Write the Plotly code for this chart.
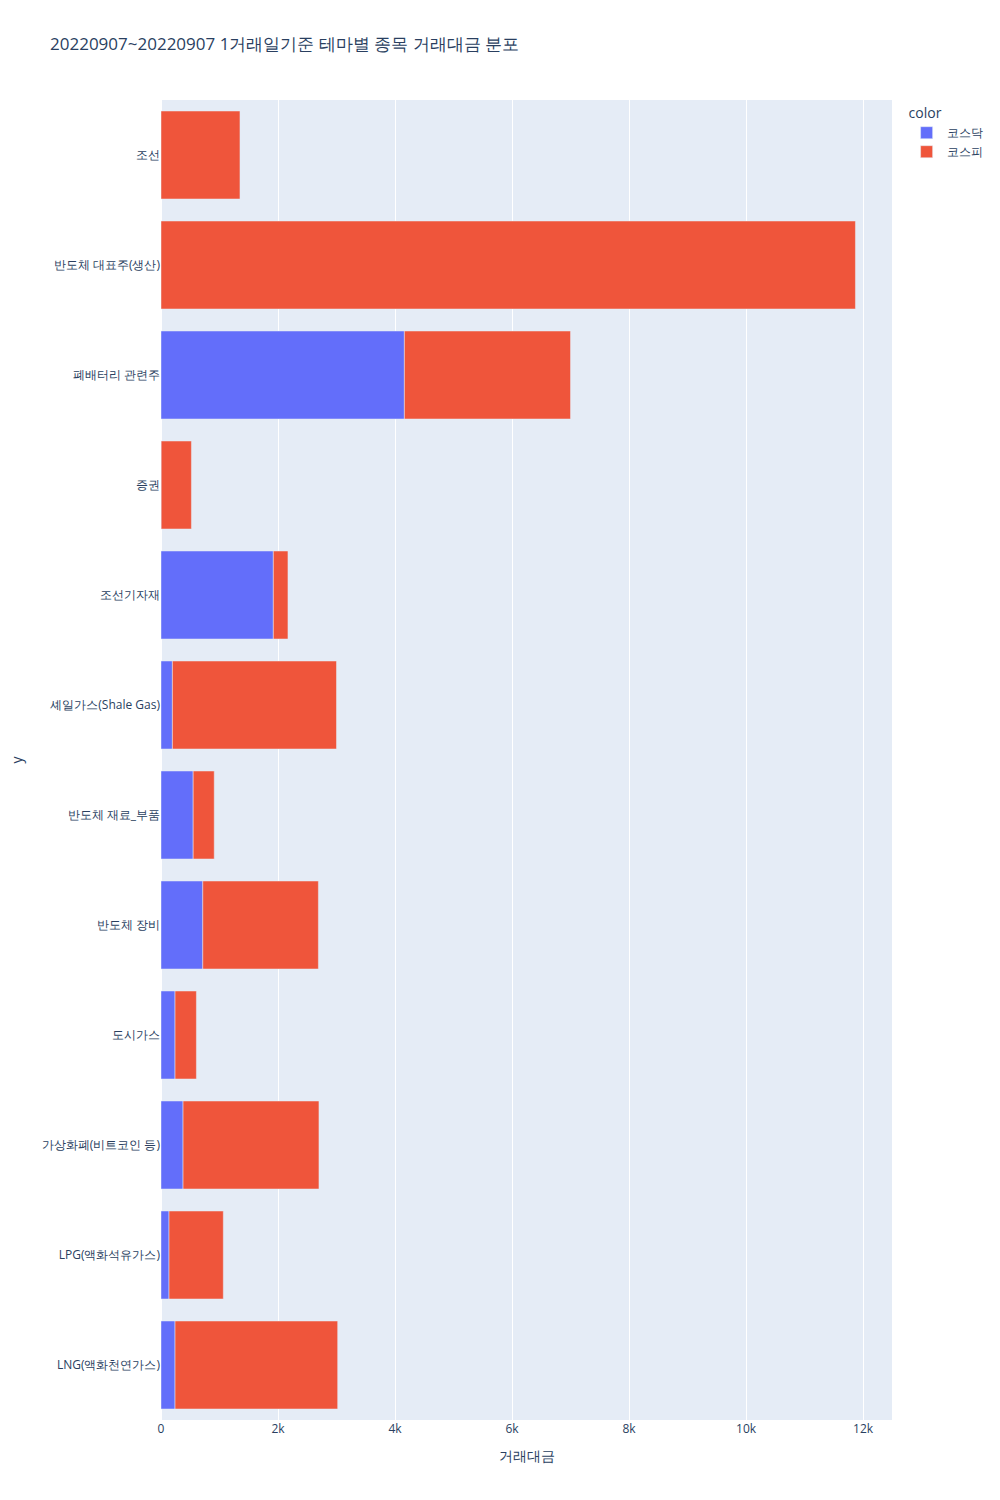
"""테마별 종목 거래대금 분포 (가로 누적 막대)."""

import plotly.express as px

# 코스닥 테마 / 거래대금
kosdaq_themes = [
    'LNG(액화천연가스)', 'LPG(액화석유가스)', '가상화폐(비트코인 등)', '도시가스',
    '반도체 장비', '반도체 재료_부품', '셰일가스(Shale Gas)', '조선기자재',
    '증권', '폐배터리 관련주',
]
kosdaq_values = [240, 137, 377, 240, 714, 550, 195, 1920, 3, 4160]

# 코스피 테마 / 거래대금
kospi_themes = [
    'LNG(액화천연가스)', 'LPG(액화석유가스)', '가상화폐(비트코인 등)', '도시가스',
    '반도체 대표주(생산)', '반도체 장비', '반도체 재료_부품', '셰일가스(Shale Gas)',
    '조선', '조선기자재', '증권', '폐배터리 관련주',
]
kospi_values = [2780, 928, 2323, 365, 11870, 1976, 360, 2805, 1350, 250, 517, 2840]

themes = kosdaq_themes + kospi_themes
values = kosdaq_values + kospi_values
markets = ['코스닥'] * len(kosdaq_themes) + ['코스피'] * len(kospi_themes)

fig = px.bar(
    x=values,
    y=themes,
    color=markets,
    orientation='h',
    title='20220907~20220907 1거래일기준 테마별 종목 거래대금 분포',
    labels={'x': '거래대금'},
)

fig.update_layout(width=1000, height=1500, margin={'l': 161})

# page margin off so the figure sits at the window's top-left corner
fig.write_html(
    "out.html",
    config={'displayModeBar': False},
    post_script="document.body.style.margin = '0';",
)
